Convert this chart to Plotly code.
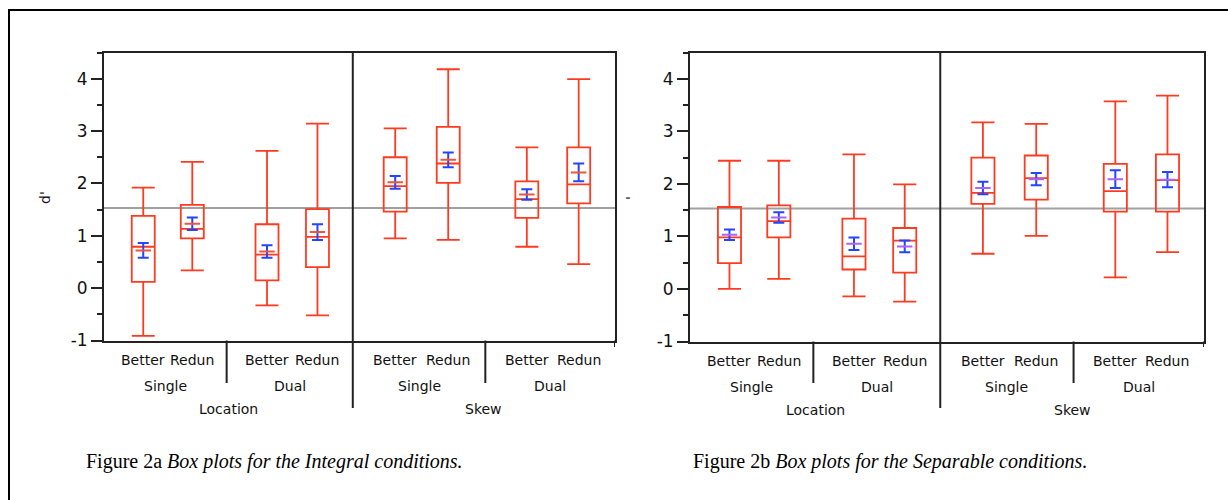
import plotly.graph_objects as go

# ---------------- data ----------------
conditions = ["Better", "Redun"] * 4
subgroups = ["Single", "Dual"]
groups = ["Location", "Skew"]

# Figure 2a (Integral)
a_upper = [1.92, 2.41, 2.62, 3.14, 3.05, 4.18, 2.69, 3.99]
a_q3 = [1.38, 1.59, 1.22, 1.51, 2.50, 3.08, 2.04, 2.69]
a_median = [0.79, 1.13, 0.64, 0.98, 1.95, 2.38, 1.70, 1.98]
a_q1 = [0.12, 0.95, 0.15, 0.40, 1.46, 2.01, 1.34, 1.62]
a_lower = [-0.91, 0.34, -0.33, -0.52, 0.95, 0.92, 0.79, 0.46]
a_mean = [0.72, 1.23, 0.70, 1.07, 2.02, 2.45, 1.79, 2.21]
a_se = [0.14, 0.12, 0.12, 0.15, 0.12, 0.14, 0.10, 0.17]
a_grand = 1.53

# Figure 2b (Separable)
b_upper = [2.44, 2.44, 2.56, 1.99, 3.17, 3.14, 3.57, 3.68]
b_q3 = [1.56, 1.59, 1.34, 1.16, 2.50, 2.54, 2.38, 2.56]
b_median = [0.98, 1.29, 0.62, 0.92, 1.83, 2.11, 1.86, 2.07]
b_q1 = [0.49, 0.98, 0.37, 0.31, 1.62, 1.70, 1.47, 1.47]
b_lower = [0.00, 0.19, -0.14, -0.24, 0.67, 1.01, 0.22, 0.70]
b_mean = [1.03, 1.36, 0.86, 0.81, 1.92, 2.09, 2.09, 2.08]
b_se = [0.10, 0.10, 0.12, 0.11, 0.12, 0.115, 0.17, 0.145]
b_grand = 1.53

y_ticks = [-1, 0, 1, 2, 3, 4]
y_minor = [-0.5, 0.5, 1.5, 2.5, 3.5, 4.5]

captions = [
    "Figure 2a <i>Box plots for the Integral conditions.</i>",
    "Figure 2b <i>Box plots for the Separable conditions.</i>",
]
y_titles = ["d'", "'"]

# ---------------- layout constants ----------------
W, H = 1228, 500
RED = "#FF3B1F"
BLUE = "#2444FF"
GREY = "#A0A0A0"
AX = "#222222"
LBL_FONT = dict(family="DejaVu Sans", size=14, color="#111111")

group_span = [1.92, 1.975, 2.075, 2.03]   # widths of the 4 sub-group cells (x units)
box_frac = [0.32, 0.72]                   # box centres within a cell
BOX_W = 0.36

edges = [0.0]
for s in group_span:
    edges.append(edges[-1] + s)
positions = []
for g in range(4):
    for f in box_frac:
        positions.append(edges[g] + f * group_span[g])

panels = [
    dict(upper=a_upper, q3=a_q3, med=a_median, q1=a_q1, lower=a_lower,
         mean=a_mean, se=a_se, grand=a_grand, dom=(104, 615), bottom=340.5),
    dict(upper=b_upper, q3=b_q3, med=b_median, q1=b_q1, lower=b_lower,
         mean=b_mean, se=b_se, grand=b_grand, dom=(690, 1204), bottom=341.5),
]
TOP = 52.5


def py(px):
    return 1 - px / H


fig = go.Figure()
shapes = []
annotations = []

for i, p in enumerate(panels):
    xa = "x" if i == 0 else "x2"
    ya = "y" if i == 0 else "y2"
    fig.add_trace(go.Box(
        x=positions, q1=p["q1"], median=p["med"], q3=p["q3"],
        lowerfence=p["lower"], upperfence=p["upper"],
        width=BOX_W, whiskerwidth=1, boxpoints=False,
        line=dict(color=RED, width=1.8), fillcolor="rgba(0,0,0,0)",
        xaxis=xa, yaxis=ya, showlegend=False, hoverinfo="skip",
    ))
    fig.add_trace(go.Scatter(
        x=positions, y=p["mean"], mode="markers",
        marker=dict(symbol="line-ew-open", size=11, line=dict(color=BLUE, width=2)),
        error_y=dict(type="data", array=p["se"], visible=True, color=BLUE,
                     thickness=2, width=5.5),
        xaxis=xa, yaxis=ya, showlegend=False, hoverinfo="skip",
    ))

    x0, x1 = p["dom"]
    bot = p["bottom"]
    axsuffix = "" if i == 0 else "2"
    fig.update_layout(**{
        "xaxis" + axsuffix: dict(
            domain=[x0 / W, x1 / W], range=[0, edges[-1]], showgrid=False,
            zeroline=False, showticklabels=False, ticks="", showline=True,
            mirror=True, linecolor=AX, linewidth=2, automargin=False,
            anchor="y" + axsuffix,
        ),
        "yaxis" + axsuffix: dict(
            domain=[py(bot), py(TOP)], range=[-1, 4.5], showgrid=False,
            zeroline=False, tickmode="array", tickvals=y_ticks,
            ticktext=[str(v) for v in y_ticks], ticks="outside", ticklen=11,
            tickwidth=2, tickcolor=AX, showline=True, mirror=True,
            linecolor=AX, linewidth=2, automargin=False,
            tickfont=dict(family="DejaVu Sans", size=17, color="#111111"),
            minor=dict(tickmode="array", tickvals=y_minor, ticks="outside",
                       ticklen=5, tickwidth=2, tickcolor=AX),
            anchor="x" + axsuffix,
        ),
    })

    # grand mean reference line
    shapes.append(dict(type="line", xref=f"x{axsuffix} domain", yref=f"y{axsuffix}",
                       x0=0, x1=1, y0=p["grand"], y1=p["grand"],
                       line=dict(color=GREY, width=2), layer="below"))
    # main divider (Location | Skew)
    shapes.append(dict(type="line", xref="x" + axsuffix, yref="paper",
                       x0=edges[2], x1=edges[2], y0=py(408), y1=py(TOP),
                       line=dict(color=AX, width=2)))
    # sub-group dividers
    for e in (edges[1], edges[3]):
        shapes.append(dict(type="line", xref="x" + axsuffix, yref="paper",
                           x0=e, x1=e, y0=py(383), y1=py(bot),
                           line=dict(color=AX, width=2)))
    # right edge extension
    shapes.append(dict(type="line", xref="x" + axsuffix, yref="paper",
                       x0=edges[-1], x1=edges[-1], y0=py(347), y1=py(bot),
                       line=dict(color=AX, width=2)))

    # category labels
    for k, pos in enumerate(positions):
        annotations.append(dict(xref="x" + axsuffix, yref="paper", x=pos,
                                y=py(bot + 19), text=conditions[k],
                                showarrow=False, font=LBL_FONT,
                                xanchor="center", yanchor="middle"))
    for g in range(4):
        annotations.append(dict(xref="x" + axsuffix, yref="paper",
                                x=(edges[g] + edges[g + 1]) / 2, y=py(bot + 45),
                                text=subgroups[g % 2], showarrow=False,
                                font=LBL_FONT, xanchor="center", yanchor="middle"))
    for gi in range(2):
        annotations.append(dict(xref="x" + axsuffix, yref="paper",
                                x=(edges[2 * gi] + edges[2 * gi + 2]) / 2,
                                y=py(bot + 68), text=groups[gi], showarrow=False,
                                font=LBL_FONT, xanchor="center", yanchor="middle"))

    # y title
    annotations.append(dict(xref="paper", yref="paper", x=(x0 - 59) / W, y=py(198),
                            text=y_titles[i], showarrow=False, textangle=-90,
                            font=dict(family="DejaVu Sans", size=14, color="#111111"),
                            xanchor="center", yanchor="middle"))

# captions
for cx, cap in zip([274, 890], captions):
    annotations.append(dict(xref="paper", yref="paper", x=cx / W, y=py(461),
                            text=cap, showarrow=False,
                            font=dict(family="Liberation Serif", size=20, color="black"),
                            xanchor="center", yanchor="middle"))

# outer frame
shapes.append(dict(type="rect", xref="paper", yref="paper",
                   x0=9 / W, x1=1.05, y0=-0.05, y1=py(10),
                   line=dict(color="black", width=2)))

fig.update_layout(
    width=W, height=H, margin=dict(l=0, r=0, t=0, b=0, pad=0, autoexpand=False),
    paper_bgcolor="white", plot_bgcolor="white",
    shapes=shapes, annotations=annotations, showlegend=False,
)

fig.write_html(
    "out.html",
    config={"displayModeBar": False, "responsive": False},
    post_script="document.body.style.margin='0';document.body.style.overflow='hidden';",
)
